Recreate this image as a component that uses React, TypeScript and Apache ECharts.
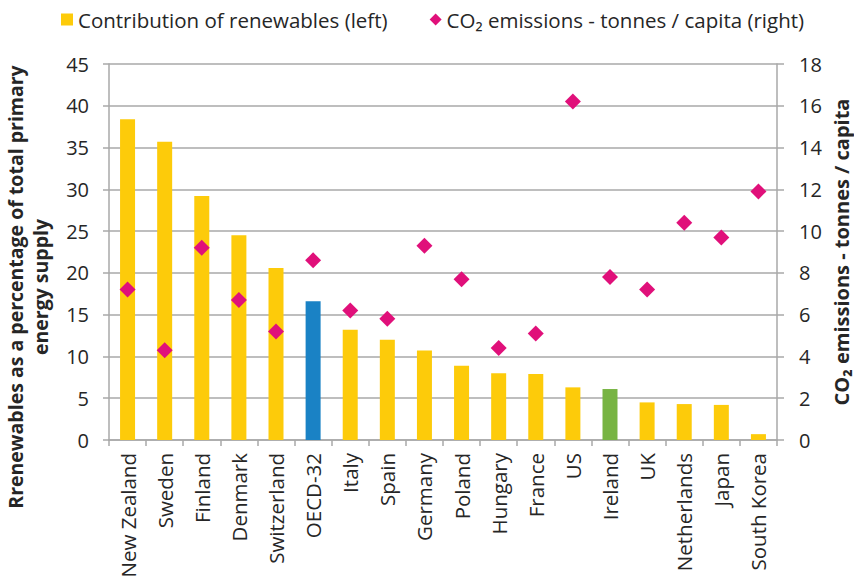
import React, { useEffect, useRef } from "react";
import * as echarts from "echarts";

const categories = [
  "New Zealand", "Sweden", "Finland", "Denmark", "Switzerland", "OECD-32",
  "Italy", "Spain", "Germany", "Poland", "Hungary", "France", "US",
  "Ireland", "UK", "Netherlands", "Japan", "South Korea",
];
const renewables = [38.4, 35.7, 29.2, 24.5, 20.6, 16.6, 13.2, 12.0, 10.7, 8.9, 8.0, 7.9, 6.3, 6.1, 4.5, 4.3, 4.2, 0.7];
const co2 = [7.2, 4.3, 9.2, 6.7, 5.2, 8.6, 6.2, 5.8, 9.3, 7.7, 4.4, 5.1, 16.2, 7.8, 7.2, 10.4, 9.7, 11.9];
const leftTicks = [0, 45, 5];
const rightTicks = [0, 18, 2];

const YELLOW = "#FDCB0A";
const BLUE = "#1A82C5";
const GREEN = "#77B443";
const MAGENTA = "#E0107A";
const GRAY = "#A9A9A9";
const TEXT = "#262626";
const FONT = "'Open Sans', 'Noto Sans', sans-serif";

const barColor = (name: string) =>
  name === "OECD-32" ? BLUE : name === "Ireland" ? GREEN : YELLOW;

export default function App() {
  const ref = useRef<HTMLDivElement>(null);
  useEffect(() => {
    if (!ref.current) return;
    const chart = echarts.init(ref.current, null, { renderer: "svg" });
    chart.setOption({
      animation: false,
      textStyle: { fontFamily: FONT, color: TEXT },
      legend: {
        left: 56,
        top: 4,
        itemWidth: 12,
        itemHeight: 12,
        itemGap: 42,
        textStyle: { fontSize: 20.5, color: TEXT, fontFamily: FONT },
        data: [
          { name: "Contribution of renewables (left)", icon: "rect", itemStyle: { color: YELLOW, opacity: 1 } },
          { name: "CO₂ emissions - tonnes / capita (right)", icon: "diamond", itemStyle: { color: MAGENTA, opacity: 1 } },
        ],
      },
      grid: { left: 109, right: 77, top: 64, bottom: 143 },
      xAxis: {
        type: "category",
        data: categories,
        axisLine: { lineStyle: { color: GRAY, width: 1.5 } },
        axisTick: { show: true, length: 6, lineStyle: { color: GRAY, width: 1.5 } },
        axisLabel: { rotate: 90, margin: 13, fontSize: 20.5, color: TEXT, fontFamily: FONT },
      },
      yAxis: [
        {
          type: "value",
          min: leftTicks[0],
          max: leftTicks[1],
          interval: leftTicks[2],
          axisLine: { show: true, lineStyle: { color: GRAY, width: 1.5 } },
          axisTick: { show: true, length: 6, lineStyle: { color: GRAY, width: 1.5 } },
          splitLine: { show: true, lineStyle: { color: GRAY, width: 1.5 } },
          axisLabel: { margin: 20, fontSize: 20, color: TEXT, fontFamily: FONT },
        },
        {
          type: "value",
          min: rightTicks[0],
          max: rightTicks[1],
          interval: rightTicks[2],
          position: "right",
          axisLine: { show: true, lineStyle: { color: GRAY, width: 1.5 } },
          axisTick: { show: true, length: 7, lineStyle: { color: GRAY, width: 1.5 } },
          splitLine: { show: false },
          axisLabel: { margin: 22, fontSize: 20, color: TEXT, fontFamily: FONT },
        },
      ],
      graphic: [
        {
          type: "text",
          x: 3,
          y: 287,
          rotation: Math.PI / 2,
          style: {
            text: "Rrenewables as a percentage of total primary\nenergy supply",
            fontSize: 19.5,
            fontWeight: "bold",
            fontFamily: FONT,
            fill: TEXT,
            align: "center",
            verticalAlign: "top",
            lineHeight: 25,
          },
        },
        {
          type: "text",
          x: 831,
          y: 252,
          rotation: Math.PI / 2,
          style: {
            text: "CO₂ emissions - tonnes / capita",
            fontSize: 20,
            fontWeight: "bold",
            fontFamily: FONT,
            fill: TEXT,
            align: "center",
            verticalAlign: "top",
          },
        },
      ],
      series: [
        {
          name: "Contribution of renewables (left)",
          type: "bar",
          yAxisIndex: 0,
          barWidth: 15,
          data: renewables.map((v, i) => ({ value: v, itemStyle: { color: barColor(categories[i]) } })),
          itemStyle: { color: YELLOW },
        },
        {
          name: "CO₂ emissions - tonnes / capita (right)",
          type: "scatter",
          yAxisIndex: 1,
          symbol: "diamond",
          symbolSize: 16,
          itemStyle: { color: MAGENTA, opacity: 1 },
          data: co2,
        },
      ],
    });
    return () => chart.dispose();
  }, []);
  return <div ref={ref} style={{ width: 854, height: 583, position: "absolute", left: 0, top: 0 }} />;
}
